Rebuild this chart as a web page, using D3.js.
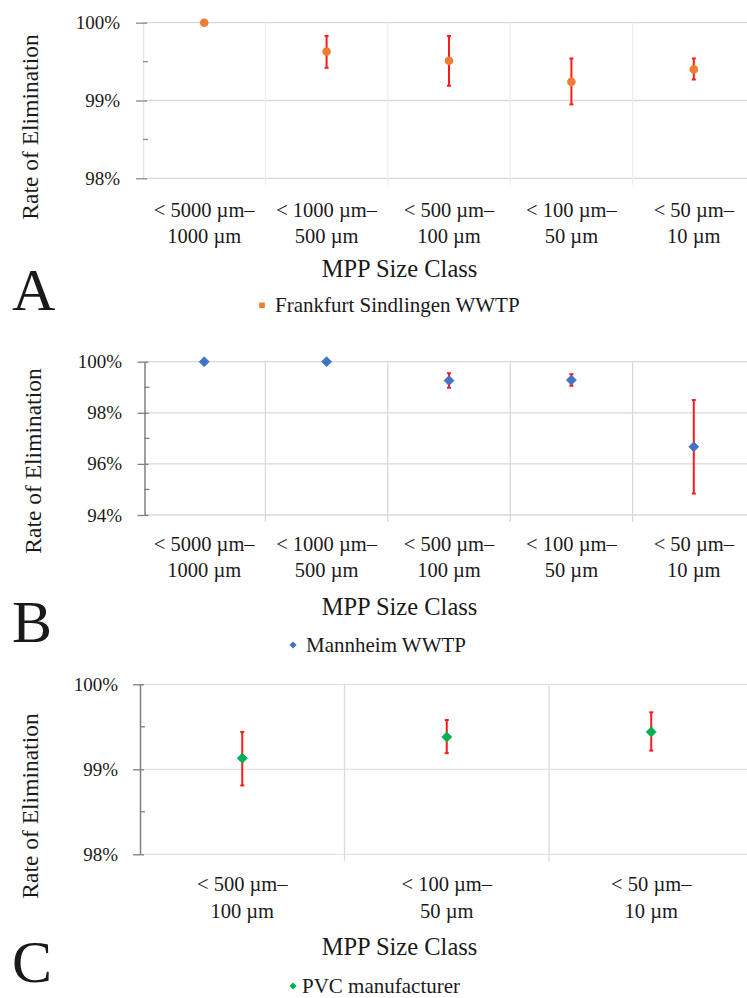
<!DOCTYPE html>
<html>
<head>
<meta charset="utf-8">
<script src="https://cdn.jsdelivr.net/npm/d3@7/dist/d3.min.js"></script>
<style>
  html, body { margin: 0; padding: 0; background: #fff; }
  svg { display: block; }
  text { font-family: "Liberation Serif", "Times New Roman", serif; fill: #1a1a1a; }
</style>
</head>
<body>
<svg id="chart" width="747" height="998"></svg>
<script>
// ---------- DATA ----------
const categoriesWWTP = [
  ["< 5000 µm–", "1000 µm"],
  ["< 1000 µm–", "500 µm"],
  ["< 500 µm–", "100 µm"],
  ["< 100 µm–", "50 µm"],
  ["< 50 µm–", "10 µm"]
];
const categoriesPVC = [
  ["< 500 µm–", "100 µm"],
  ["< 100 µm–", "50 µm"],
  ["< 50 µm–", "10 µm"]
];

const frankfurtValues = [100, 99.63, 99.51, 99.24, 99.40];
const frankfurtLow    = [100, 99.42, 99.19, 98.95, 99.27];
const frankfurtHigh   = [100, 99.83, 99.83, 99.54, 99.54];

const mannheimValues = [100, 100, 99.26, 99.28, 96.67];
const mannheimLow    = [100, 100, 98.98, 99.06, 94.84];
const mannheimHigh   = [100, 100, 99.55, 99.51, 98.50];

const pvcValues = [99.13, 99.38, 99.44];
const pvcLow    = [98.81, 99.19, 99.22];
const pvcHigh   = [99.44, 99.58, 99.67];

const ticksA = [98, 99, 100];
const minorA = [98.5, 99.5];
const ticksB = [94, 96, 98, 100];
const minorB = [95, 97, 99];
const ticksC = [98, 99, 100];
const minorC = [98.5, 99.5];

const seriesNames = ["Frankfurt Sindlingen WWTP", "Mannheim WWTP", "PVC manufacturer"];
const panelLetters = ["A", "B", "C"];
const yTitle = "Rate of Elimination";
const xTitle = "MPP Size Class";

// ---------- DRAW ----------
const svg = d3.select("#chart");

const panels = [
  {
    cats: categoriesWWTP, vals: frankfurtValues, lo: frankfurtLow, hi: frankfurtHigh,
    ticks: ticksA, minor: minorA, domain: [98, 100],
    x0: 143, x1: 755, axisX: 143, yTop: 22.7, yBot: 178.3,
    marker: "circle", color: "#ED7D31", legendMarker: "square",
    vGrid: "#efefef", hGrid: "#d9d9d9", axisColor: "#e4e4e4", tickColor: "#8c8c8c",
    lab1: 217, lab2: 243, titleY: 277, legendY: 312, legendMX: 262, legendTX: 275,
    letterY: 310, yTitleX: 38, yTitleY: 127, tickLabelRight: 120, name: seriesNames[0], letter: panelLetters[0]
  },
  {
    cats: categoriesWWTP, vals: mannheimValues, lo: mannheimLow, hi: mannheimHigh,
    ticks: ticksB, minor: minorB, domain: [94, 100],
    x0: 143, x1: 755, axisX: 144.5, yTop: 361.7, yBot: 515,
    marker: "diamond", color: "#4472C4", legendMarker: "diamond",
    vGrid: "#d9d9d9", hGrid: "#d9d9d9", axisColor: "#7f7f7f", tickColor: "#7f7f7f",
    lab1: 551, lab2: 577, titleY: 615, legendY: 652, legendMX: 293, legendTX: 306,
    letterY: 642, yTitleX: 41, yTitleY: 461, tickLabelRight: 122, name: seriesNames[1], letter: panelLetters[1]
  },
  {
    cats: categoriesPVC, vals: pvcValues, lo: pvcLow, hi: pvcHigh,
    ticks: ticksC, minor: minorC, domain: [98, 100],
    x0: 140, x1: 753.5, axisX: 140, yTop: 684.3, yBot: 854.3,
    marker: "diamond", color: "#00B050", legendMarker: "diamond",
    vGrid: "#dcdcdc", hGrid: "#e3e3e3", axisColor: "#7f7f7f", tickColor: "#7f7f7f",
    lab1: 891, lab2: 918, titleY: 955, legendY: 993, legendMX: 293, legendTX: 302,
    letterY: 982, yTitleX: 38, yTitleY: 806, tickLabelRight: 118, name: seriesNames[2], letter: panelLetters[2]
  }
];

const diamond = (cx, cy, r) => `M${cx},${cy - r}L${cx + r},${cy}L${cx},${cy + r}L${cx - r},${cy}Z`;

panels.forEach(p => {
  const g = svg.append("g");
  const x = d3.scaleBand().domain(d3.range(p.cats.length)).range([p.x0, p.x1]).paddingInner(0).paddingOuter(0);
  const y = d3.scaleLinear().domain(p.domain).range([p.yBot, p.yTop]);
  const cx = i => x(i) + x.bandwidth() / 2;

  // horizontal gridlines
  g.append("g").selectAll("line").data(p.ticks).join("line")
    .attr("x1", p.axisX).attr("x2", 747)
    .attr("y1", d => y(d)).attr("y2", d => y(d))
    .attr("stroke", p.hGrid).attr("stroke-width", 1.3);

  // vertical gridlines at category boundaries (extending slightly below the axis)
  g.append("g").selectAll("line").data(d3.range(1, p.cats.length)).join("line")
    .attr("x1", i => x(i)).attr("x2", i => x(i))
    .attr("y1", p.yTop).attr("y2", p.yBot + 7)
    .attr("stroke", p.vGrid).attr("stroke-width", 1.3);

  // y axis
  const axis = d3.axisLeft(y).tickValues(p.ticks).tickFormat(d => d + "%")
    .tickSizeInner(7).tickSizeOuter(0).tickPadding(p.axisX - p.tickLabelRight - 7);
  const ag = g.append("g").attr("transform", `translate(${p.axisX},0)`).call(axis);
  ag.select(".domain").attr("stroke", p.axisColor).attr("stroke-width", 1.5);
  ag.selectAll(".tick line").attr("x1", 4).attr("x2", -7).attr("stroke", p.tickColor).attr("stroke-width", 1.3);
  ag.selectAll(".tick text").attr("font-family", "Liberation Serif, serif").attr("font-size", 19).attr("fill", "#1a1a1a");

  // minor ticks
  g.append("g").selectAll("line").data(p.minor).join("line")
    .attr("x1", p.axisX).attr("x2", p.axisX + 5)
    .attr("y1", d => y(d)).attr("y2", d => y(d))
    .attr("stroke", p.tickColor).attr("stroke-width", 1.3);

  // category labels
  const lg = g.append("g");
  p.cats.forEach((c, i) => {
    lg.append("text").attr("x", cx(i)).attr("y", p.lab1).attr("text-anchor", "middle")
      .attr("font-size", 20.5).text(c[0]);
    lg.append("text").attr("x", cx(i)).attr("y", p.lab2).attr("text-anchor", "middle")
      .attr("font-size", 20.5).text(c[1]);
  });

  // error bars
  const eg = g.append("g");
  p.vals.forEach((v, i) => {
    if (p.hi[i] === p.lo[i]) return;
    const xc = cx(i);
    eg.append("line").attr("x1", xc).attr("x2", xc).attr("y1", y(p.hi[i])).attr("y2", y(p.lo[i]))
      .attr("stroke", "#FF1A1A").attr("stroke-width", 2);
    [p.hi[i], p.lo[i]].forEach(e => {
      eg.append("line").attr("x1", xc - 2).attr("x2", xc + 2).attr("y1", y(e)).attr("y2", y(e))
        .attr("stroke", "#FF1A1A").attr("stroke-width", 2);
    });
  });

  // markers
  const mg = g.append("g");
  if (p.marker === "circle") {
    mg.selectAll("circle").data(p.vals).join("circle")
      .attr("cx", (d, i) => cx(i)).attr("cy", d => y(d)).attr("r", 4.3).attr("fill", p.color);
  } else {
    mg.selectAll("path").data(p.vals).join("path")
      .attr("d", (d, i) => diamond(cx(i), y(d), 5)).attr("fill", p.color)
      .attr("stroke", p.color).attr("stroke-width", 0.8).attr("stroke-linejoin", "round");
  }

  // y title
  g.append("text").attr("transform", `translate(${p.yTitleX},${p.yTitleY}) rotate(-90)`)
    .attr("text-anchor", "middle").attr("font-size", 23.5).text(yTitle);

  // x title
  g.append("text").attr("x", 399.5).attr("y", p.titleY).attr("text-anchor", "middle")
    .attr("font-size", 24.5).text(xTitle);

  // legend
  if (p.legendMarker === "square") {
    g.append("rect").attr("x", p.legendMX - 2.8).attr("y", p.legendY - 9.5).attr("width", 5.6).attr("height", 5.6).attr("fill", p.color);
  } else {
    g.append("path").attr("d", diamond(p.legendMX, p.legendY - 7, 3.6)).attr("fill", p.color);
  }
  g.append("text").attr("x", p.legendTX).attr("y", p.legendY).attr("font-size", 21).text(p.name);

  // panel letter
  g.append("text").attr("x", 12).attr("y", p.letterY).attr("font-size", 60).attr("fill", "#000").text(p.letter);
});
</script>
</body>
</html>
